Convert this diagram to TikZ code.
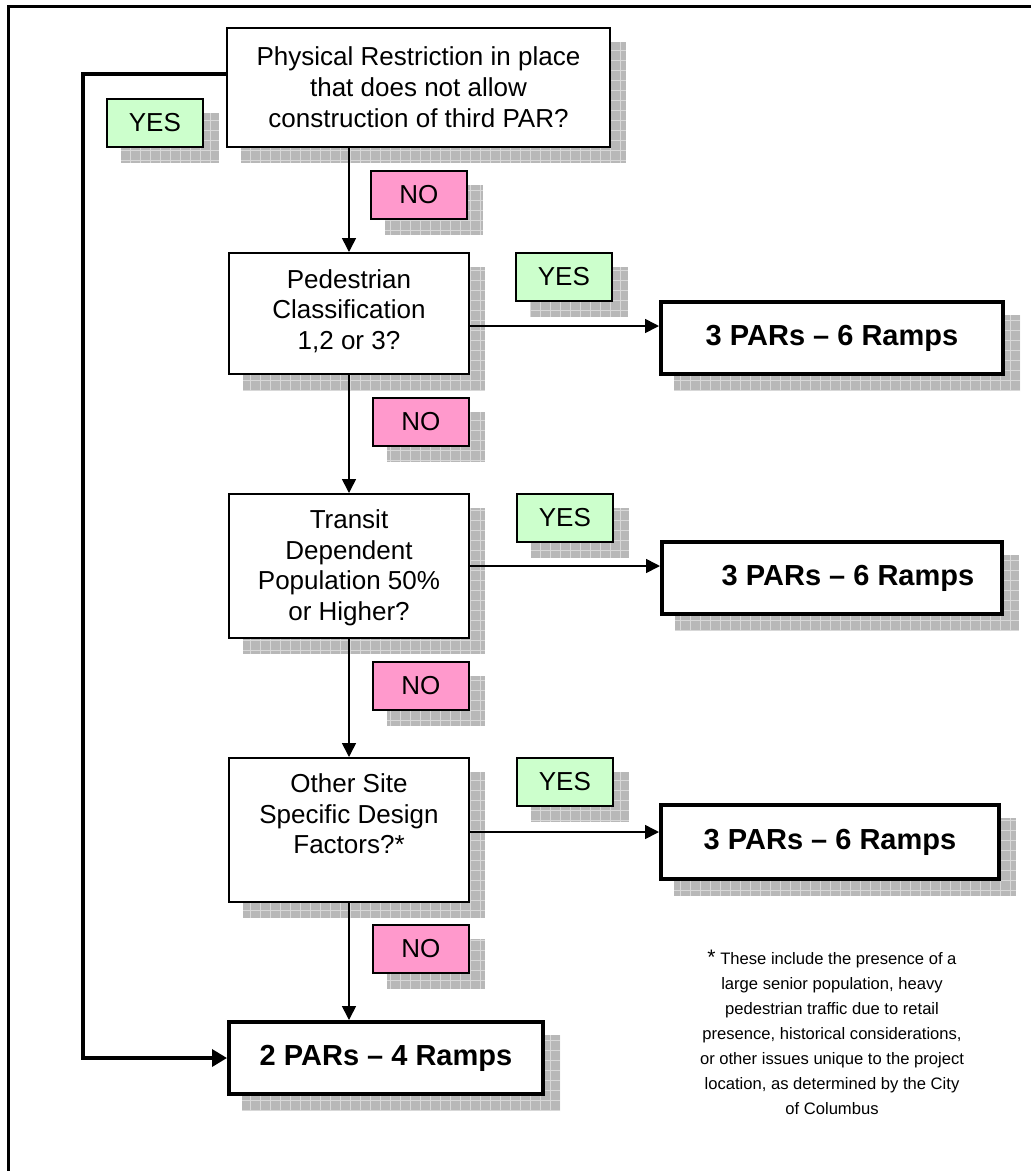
\documentclass[tikz,border=0pt]{standalone}
\usepackage{fontspec}
\setmainfont{Liberation Sans}
\usetikzlibrary{arrows.meta,backgrounds,calc}
\definecolor{yesgreen}{RGB}{204,255,204}
\definecolor{nopink}{RGB}{255,153,204}
\definecolor{shadowgray}{RGB}{184,184,184}
\definecolor{shadowline}{RGB}{216,216,216}
\newcommand\boxshadow[1]{%
  \begin{scope}
    \clip ([shift={(15,15)}]#1.north west) rectangle ([shift={(15,15)}]#1.south east);
    \fill[shadowgray] ([shift={(15,15)}]#1.north west) rectangle ([shift={(15,15)}]#1.south east);
    \draw[shadowline, line width=0.8pt, step=10pt] ([shift={(15,15)}]#1.north west) grid ([shift={(15,15)}]#1.south east);
  \end{scope}}
\newcommand\qtext[4]{\parbox[c][#2pt][t]{#1pt}{\centering\vspace*{#3pt}#4\par}}
\begin{document}
\begin{tikzpicture}[x=1pt,y=-1pt,
  qbox/.style={draw, line width=2pt, fill=white, inner sep=0pt, anchor=north west, font=\fontsize{26}{30.5}\selectfont},
  lbox/.style={draw, line width=1.8pt, inner sep=0pt, anchor=north west, minimum width=96pt, minimum height=48pt, font=\fontsize{26}{30}\selectfont},
  yesbox/.style={lbox, fill=yesgreen},
  nobox/.style={lbox, fill=nopink},
  rbox/.style={draw, line width=4pt, fill=white, inner sep=0pt, anchor=north west, font=\fontsize{29}{34}\selectfont\bfseries},
  arr/.style={line width=1.6pt, -{Triangle[length=14pt,width=14pt]}},
  thickarr/.style={line width=3.5pt, line join=miter, -{Triangle[length=15pt,width=17pt]}}]
\useasboundingbox (0,0) rectangle (1031,1171);

% question boxes
\node[qbox] (top) at (226,27) {\qtext{383}{119}{18.5}{\fontsize{26}{31}\selectfont Physical Restriction in place\\that does not allow\\construction of third PAR?}};
\node[qbox] (ped) at (228,252) {\qtext{240}{121}{16.5}{Pedestrian\\Classification\\1,2 or 3?}};
\node[qbox] (tr) at (228,493) {\qtext{240}{144}{16}{Transit\\Dependent\\Population 50\%\\or Higher?}};
\node[qbox] (ot) at (228,757) {\qtext{240}{144}{16}{Other Site\\Specific Design\\Factors?*}};

% result boxes
\node[rbox, minimum width=342pt, minimum height=72pt] (r1) at (659,300) {3 PARs – 6 Ramps};
\node[rbox, minimum width=340pt, minimum height=72pt] (r2) at (660,540) {\hspace*{32pt}3 PARs – 6 Ramps};
\node[rbox, minimum width=338pt, minimum height=74pt] (r3) at (659,803) {3 PARs – 6 Ramps};
\node[rbox, minimum width=314pt, minimum height=72pt] (two) at (227,1020) {2 PARs – 4 Ramps};

% labels
\node[yesbox] (y0) at (106,98) {YES};
\node[nobox] (n1) at (370,170) {NO};
\node[yesbox] (y1) at (515,252) {YES};
\node[nobox] (n2) at (372,397) {NO};
\node[yesbox] (y2) at (516,493) {YES};
\node[nobox] (n3) at (372,661) {NO};
\node[yesbox] (y3) at (516,757) {YES};
\node[nobox] (n4) at (372,924) {NO};

% footnote
\node[align=center, font=\fontsize{16.6}{25}\selectfont] (note) at (832,1032) {{\fontsize{21}{25}\selectfont *} These include the presence of a\\large senior population, heavy\\pedestrian traffic due to retail\\presence, historical considerations,\\or other issues unique to the project\\location, as determined by the City\\of Columbus};

% connectors
\coordinate (p1) at ([yshift=-12.5pt]ped.east);
\coordinate (p3) at ([yshift=-2pt]ot.east);
\coordinate (p0) at ([yshift=13.5pt]top.west);
\coordinate (lx) at (83,1000);
\draw[arr] (top.south -| ped.north) -- (ped.north);
\draw[arr] (p1) -- (p1 -| r1.west);
\draw[arr] (ped.south) -- (tr.north);
\draw[arr] (tr.east) -- (tr.east -| r2.west);
\draw[arr] (tr.south) -- (ot.north);
\draw[arr] (p3) -- (p3 -| r3.west);
\draw[arr] (ot.south) -- (ot.south |- two.north);
\draw[thickarr] (p0) -| (lx |- two.west) -- (two.west);

% frame
\draw[line width=2.5pt] (8.5,1180) -- (8.5,6.3) -- (1040,6.3);

% shadows
\begin{scope}[on background layer]
  \fill[white] (0,0) rectangle (1031,1171);
  \foreach \n in {top,ped,tr,ot,r1,r2,r3,two,y0,n1,y1,n2,y2,n3,y3,n4} {\boxshadow{\n}}
\end{scope}
\end{tikzpicture}
\end{document}
